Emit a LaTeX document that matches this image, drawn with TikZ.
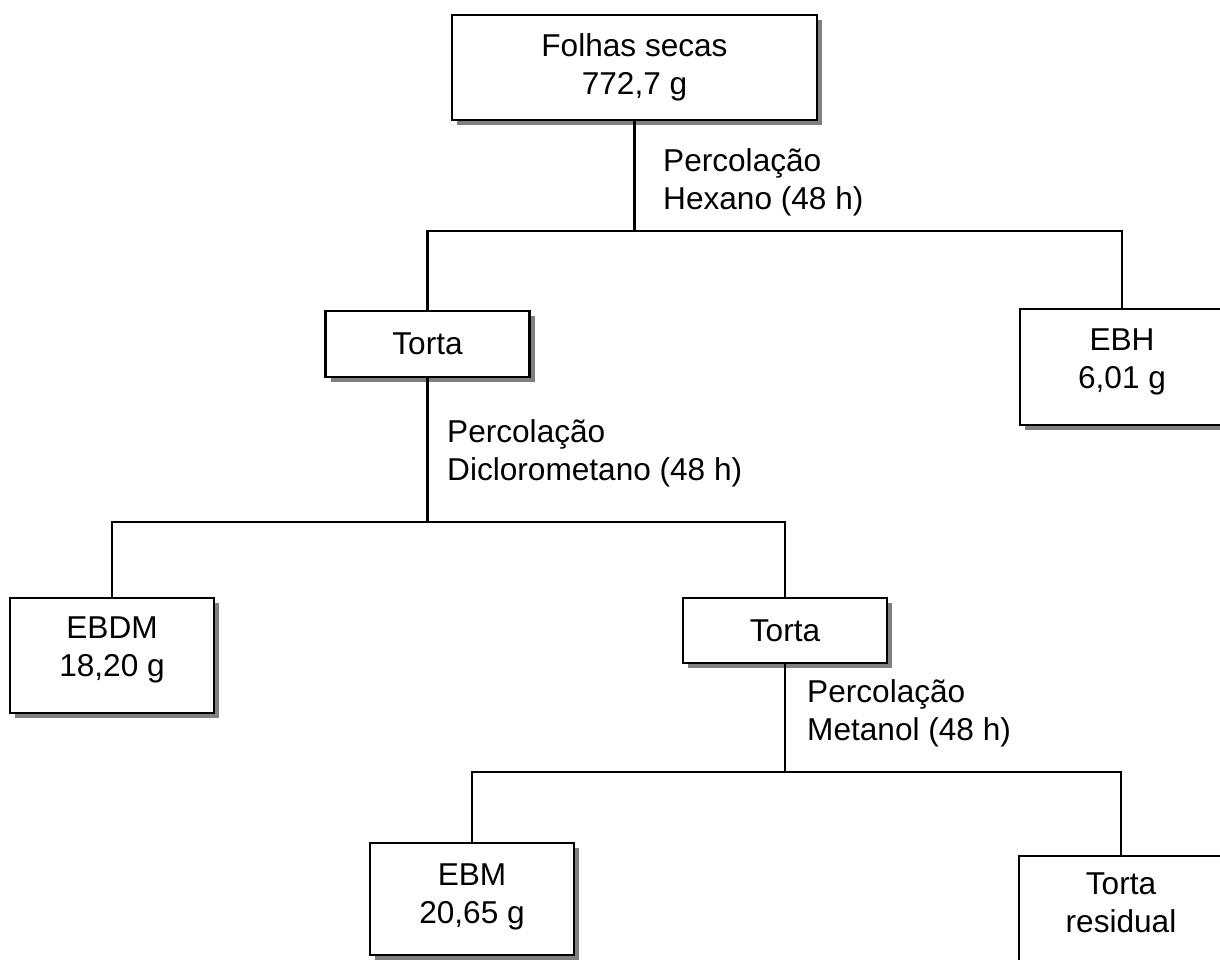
\documentclass[tikz,border=0pt]{standalone}
\usepackage{fontspec}
\setmainfont{Liberation Sans}
\usetikzlibrary{shadows}

\tikzset{
  caixa/.style = {draw, line width=2.2pt, fill=white, minimum width=204pt,
    align=center, inner sep=0pt,
    drop shadow={shadow xshift=5pt, shadow yshift=-5pt, fill=black!50, opacity=1}},
  rotulo/.style = {anchor=west, align=left, inner sep=0pt},
  fio/.style = {line width=2.2pt}
}

\begin{document}
\begin{tikzpicture}[x=1pt, y=-1pt, font=\fontsize{31.6pt}{38pt}\selectfont]
\useasboundingbox (0,0) rectangle (1220,960);
\clip (0,0) rectangle (1220,960);
\node [caixa, minimum width=365pt, minimum height=105pt] (folhas) at (634.5,67.5) {Folhas secas\\772,7 g};
\node [caixa, minimum height=66pt] (torta1) at (427.5,344) {Torta};
\node [caixa, minimum height=116pt, text depth=17pt] (ebh) at (1122,367) {EBH\\6,01 g};
\node [caixa, minimum height=115pt, text depth=17pt] (ebdm) at (112,655.5) {EBDM\\18,20 g};
\node [caixa, minimum height=65pt] (torta2) at (785,630.5) {Torta};
\node [caixa, minimum height=112pt, text depth=11pt] (ebm) at (472,899) {EBM\\20,65 g};
\node [caixa, minimum height=116pt, text depth=23pt] (residual) at (1121,914) {Torta\\residual};
\coordinate (j1) at (folhas.south |- 0,231);
\coordinate (j2) at (torta1.south |- 0,522);
\coordinate (j3) at (torta2.south |- 0,772);
\draw [fio] (folhas.south) -- (j1);
\draw [fio] (torta1.north) |- (j1) -| (ebh.north);
\draw [fio] (torta1.south) -- (j2);
\draw [fio] (ebdm.north) |- (j2) -| (torta2.north);
\draw [fio] (torta2.south) -- (j3);
\draw [fio] (ebm.north) |- (j3) -| (residual.north);
\node [rotulo] (perc1) at (663,182.5) {Percolação\\Hexano (48 h)};
\node [rotulo] (perc2) at (447,453.5) {Percolação\\Diclorometano (48 h)};
\node [rotulo] (perc3) at (807,713.5) {Percolação\\Metanol (48 h)};
\end{tikzpicture}
\end{document}
